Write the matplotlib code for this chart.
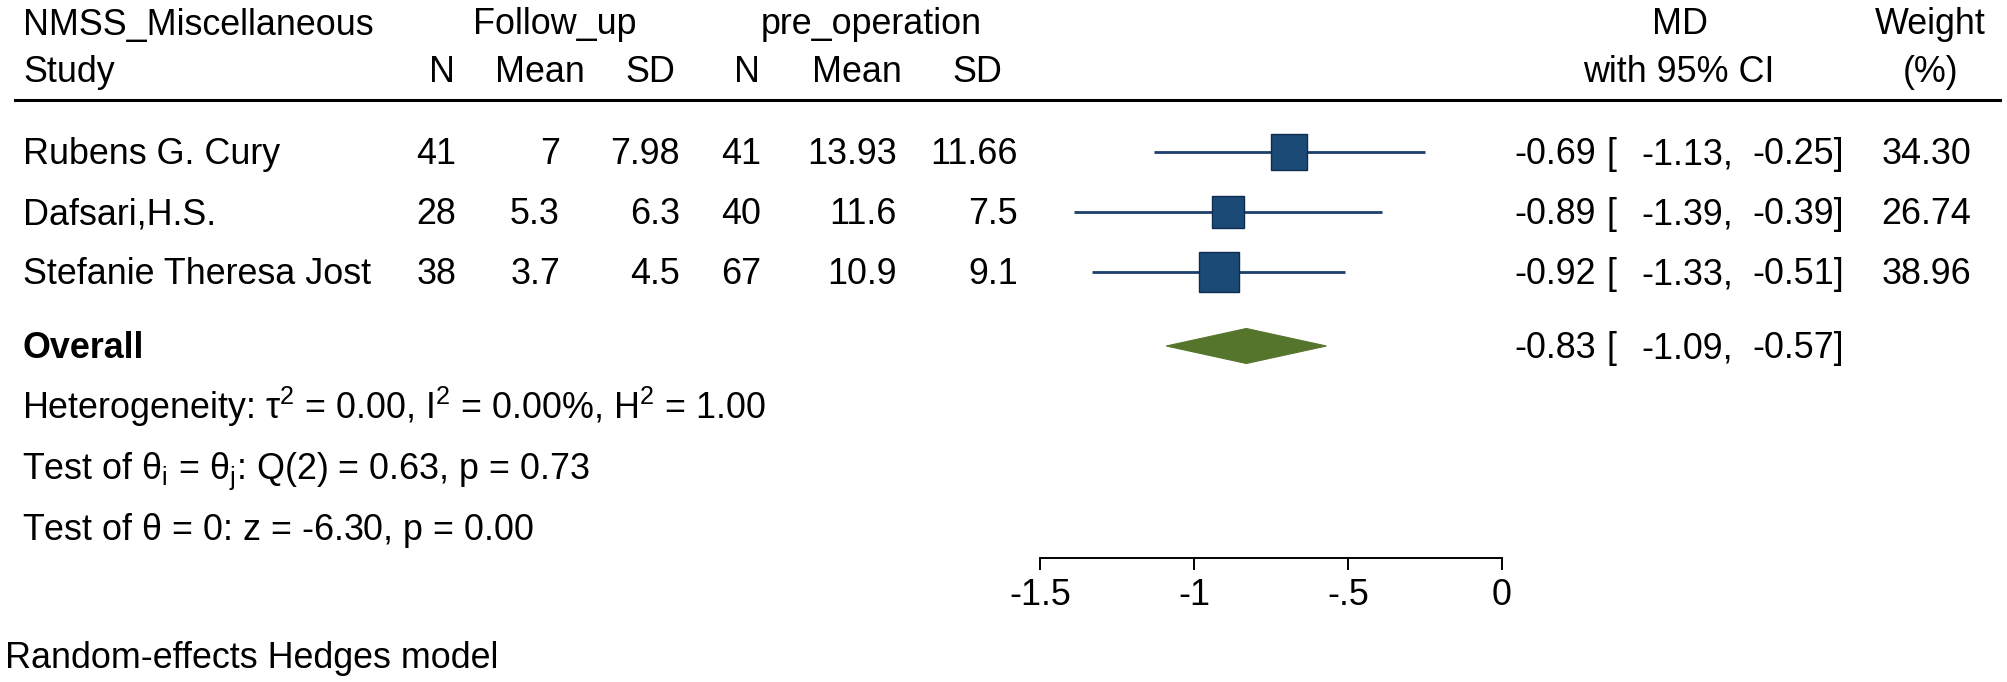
import matplotlib
matplotlib.use("Agg")
import matplotlib.pyplot as plt
from matplotlib.transforms import blended_transform_factory
from matplotlib.patches import Polygon

# ---------------- data ----------------
studies = ["Rubens G. Cury", "Dafsari,H.S.", "Stefanie Theresa Jost"]
fu_n = [41, 28, 38]
fu_mean = [7, 5.3, 3.7]
fu_sd = [7.98, 6.3, 4.5]
pre_n = [41, 40, 67]
pre_mean = [13.93, 11.6, 10.9]
pre_sd = [11.66, 7.5, 9.1]
md = [-0.69, -0.89, -0.92]
ci_lo = [-1.13, -1.39, -1.33]
ci_hi = [-0.25, -0.39, -0.51]
weight = [34.30, 26.74, 38.96]
overall_md = -0.83
overall_lo = -1.09
overall_hi = -0.57
xticks = [-1.5, -1, -0.5, 0]
xtick_labels = ["-1.5", "-1", "-.5", "0"]
het_text = r"Heterogeneity: $\mathregular{\tau^2}$ = 0.00, $\mathregular{I^2}$ = 0.00%, $\mathregular{H^2}$ = 1.00"
test1_text = r"Test of $\mathregular{\theta_i}$ = $\mathregular{\theta_j}$: Q(2) = 0.63, p = 0.73"
test2_text = r"Test of $\mathregular{\theta}$ = 0: z = -6.30, p = 0.00"
model_text = "Random-effects Hedges model"

# ---------------- style ----------------
plt.rcParams["font.family"] = ["Liberation Sans", "DejaVu Sans"]
plt.rcParams["mathtext.fontset"] = "custom"
plt.rcParams["mathtext.rm"] = "Liberation Sans"
plt.rcParams["mathtext.it"] = "Liberation Sans:italic"
plt.rcParams["mathtext.bf"] = "Liberation Sans:bold"

W, H = 2008, 682
FS = 25.8
ROW0 = 152.0   # pixel y of first study row
STEP = 60.0    # pixel distance between rows
BASE = 12.5    # pixel offset centre -> baseline

NAVY = "#1B4A76"
NAVY_EDGE = "#0F2C4E"
LINE = "#1C3F6B"
GREEN = "#56752C"

fig = plt.figure(figsize=(W / 100, H / 100), dpi=100)
ax = fig.add_axes([0, 0, 1, 1])
# x data scale: value 0 at pixel 1502, 1 unit = 308 px
x0_px, unit_px = 1502.0, 308.0
ax.set_xlim(-x0_px / unit_px, (W - x0_px) / unit_px)
ax.set_ylim((H - ROW0) / STEP, -ROW0 / STEP)

trans = blended_transform_factory(ax.transAxes, ax.transData)


def row_of(px):
    return (px - ROW0) / STEP


def put(xpx, row, s, ha="right", weight_="normal"):
    ax.text(xpx / W, row + BASE / STEP, s, transform=trans, ha=ha,
            va="baseline", fontsize=FS, fontweight=weight_, color="black")


# headers
r1, r2 = row_of(22), row_of(70)
put(23, r1, "NMSS_Miscellaneous", ha="left")
put(555, r1, "Follow_up", ha="center")
put(871, r1, "pre_operation", ha="center")
put(1680, r1, "MD", ha="center")
put(1930, r1, "Weight", ha="center")
put(23, r2, "Study", ha="left")
put(455, r2, "N")
put(585, r2, "Mean")
put(675, r2, "SD")
put(760, r2, "N")
put(902, r2, "Mean")
put(1002, r2, "SD")
put(1679, r2, "with 95% CI", ha="center")
put(1931, r2, "(%)", ha="center")

ax.axhline(row_of(100), xmin=15 / W, xmax=2000 / W, color="black", lw=2.2)

# study rows
for i, name in enumerate(studies):
    put(23, i, name, ha="left")
    put(456, i, f"{fu_n[i]}")
    put(560, i, f"{fu_mean[i]:g}")
    put(680, i, f"{fu_sd[i]:g}")
    put(761, i, f"{pre_n[i]}")
    put(897, i, f"{pre_mean[i]:g}")
    put(1018, i, f"{pre_sd[i]:g}")
    put(1596, i, f"{md[i]:.2f}")
    put(1607, i, "[", ha="left")
    put(1733, i, f"{ci_lo[i]:.2f},")
    put(1844, i, f"{ci_hi[i]:.2f}]")
    put(1971, i, f"{weight[i]:.2f}")
    ax.plot([ci_lo[i], ci_hi[i]], [i, i], color=LINE, lw=2.0,
            solid_capstyle="butt", zorder=2)
    ax.plot(md[i], i, marker="s", ms=4.5 * weight[i] ** 0.5,
            mfc=NAVY, mec=NAVY_EDGE, mew=1.0, zorder=3)

# overall
ro = row_of(346)
put(23, ro, "Overall", ha="left", weight_="bold")
put(1596, ro, f"{overall_md:.2f}")
put(1607, ro, "[", ha="left")
put(1733, ro, f"{overall_lo:.2f},")
put(1844, ro, f"{overall_hi:.2f}]")
half_h = 17.5 / STEP
diamond = Polygon([[overall_lo, ro], [overall_md, ro - half_h],
                   [overall_hi, ro], [overall_md, ro + half_h]],
                  closed=True, facecolor=GREEN, edgecolor=GREEN, lw=0.8,
                  zorder=3)
ax.add_patch(diamond)

put(22, row_of(407), het_text, ha="left")
put(22, row_of(467), test1_text, ha="left")
put(22, row_of(527), test2_text, ha="left")
put(5, row_of(655), model_text, ha="left")

# x axis
for s in ["top", "left", "right"]:
    ax.spines[s].set_visible(False)
ax.spines["bottom"].set_position(("data", row_of(558)))
ax.spines["bottom"].set_bounds(xticks[0], xticks[-1])
ax.spines["bottom"].set_linewidth(1.4)
ax.set_xticks(xticks)
ax.set_xticklabels(xtick_labels)
ax.tick_params(axis="x", length=8.6, width=1.4, pad=5.5, labelsize=FS,
               direction="out", colors="black")
ax.set_yticks([])
ax.patch.set_alpha(0)

fig.savefig("out.png", dpi=100, facecolor="white")
